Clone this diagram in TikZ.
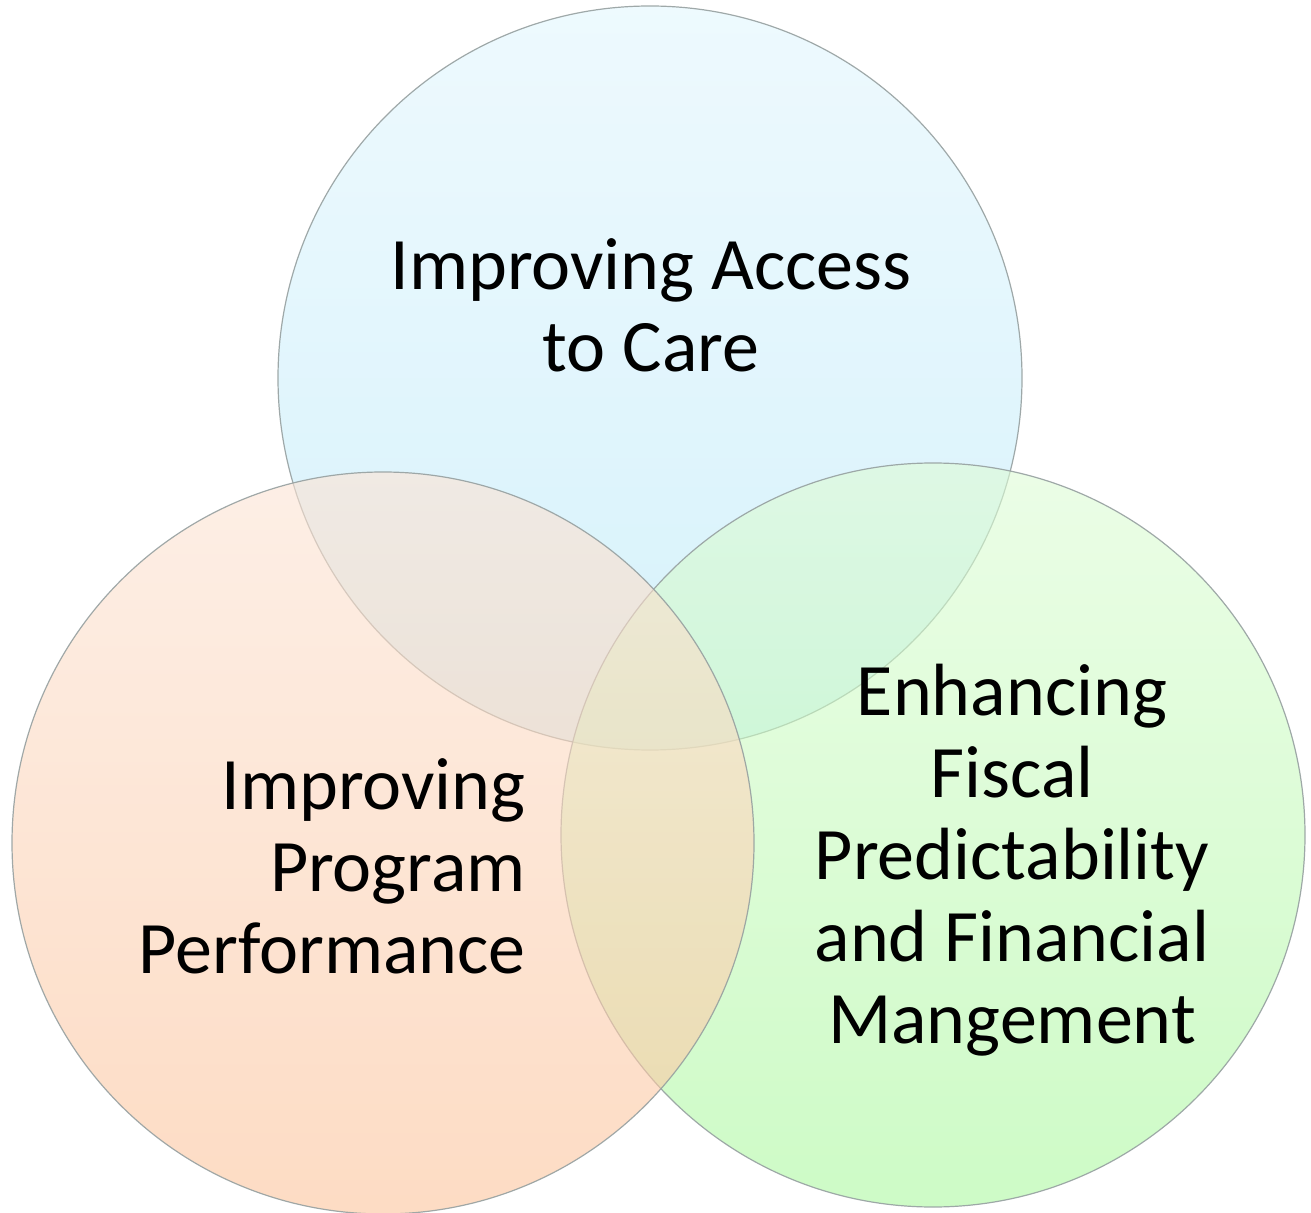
\documentclass[tikz,border=0pt]{standalone}
\usepackage{fontspec}
\setmainfont{Carlito}
\usepackage{xcolor}
\usepackage{tikz}
\usetikzlibrary{positioning}
\definecolor{accesstop}{RGB}{226,246,253}
\definecolor{accessbot}{RGB}{185,232,248}
\definecolor{programtop}{RGB}{252,228,213}
\definecolor{programbot}{RGB}{252,196,156}
\definecolor{fiscaltop}{RGB}{222,252,214}
\definecolor{fiscalbot}{RGB}{172,248,160}
\definecolor{rim}{RGB}{150,160,160}

\begin{document}
\begin{tikzpicture}[x=0.5pt, y=-0.5pt,
        venn/.style={draw=rim, line width=0.6pt, fill opacity=0.6, draw opacity=0.9},
        label/.style={font=\fontsize{37}{41}\selectfont, text=black, inner sep=0pt}]
        \useasboundingbox (0,0) rectangle (1311,1213);

        % Circles
        \draw[venn, top color=accesstop, bottom color=accessbot] (650,378) circle (372);
        \draw[venn, top color=fiscaltop, bottom color=fiscalbot] (933,835) circle (372);
        \draw[venn, top color=programtop, bottom color=programbot] (383,843) circle (371);

        % Labels
        \node[label, align=center] (access) at (651,305) {Improving Access\\to Care};
        \node[label, align=right, anchor=east] (program) at (526,866) {Improving\\Program\\Performance};
        \node[label, align=center] (fiscal) at (1012,860) {Enhancing\\Fiscal\\Predictability\\and Financial\\Mangement};
    \end{tikzpicture}
\end{document}
